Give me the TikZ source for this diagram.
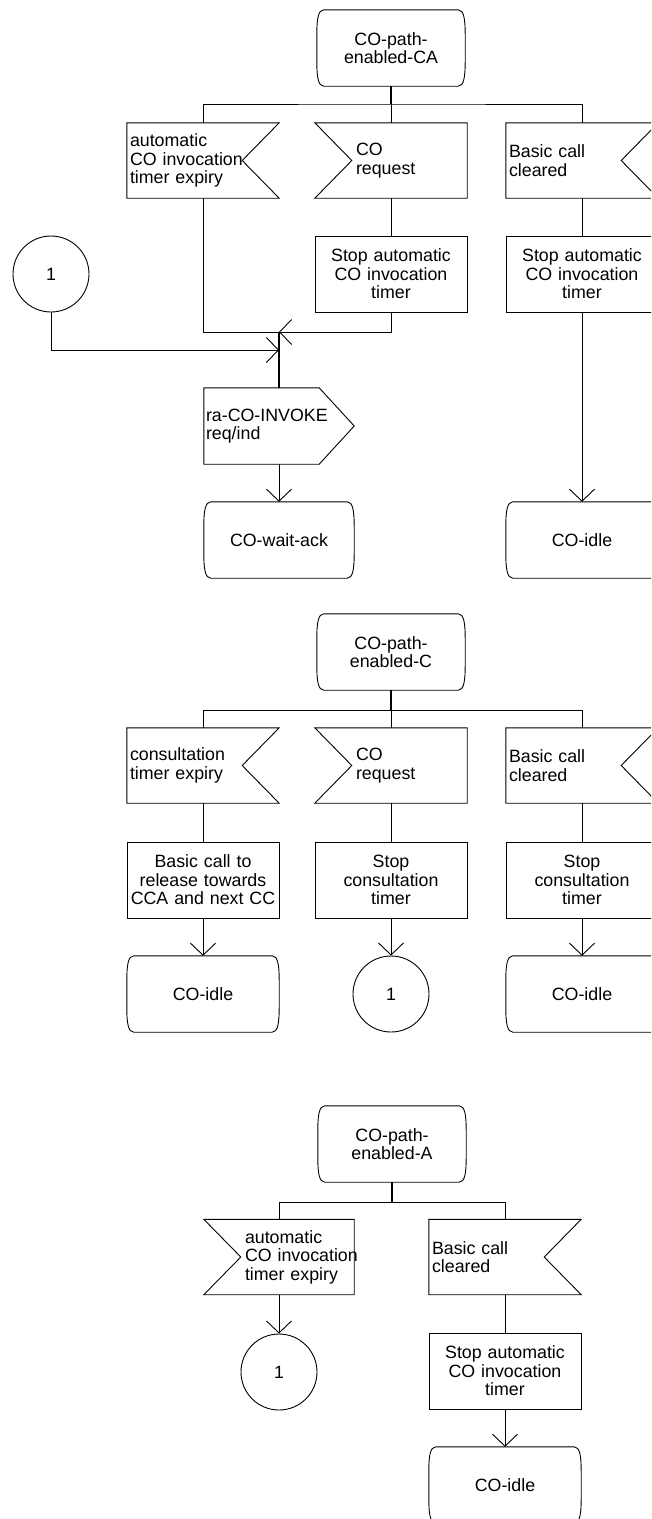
\documentclass[tikz,border=0pt]{standalone}
\usepackage{fontspec}
\setmainfont{Liberation Sans}
\usetikzlibrary{arrows.meta}
\hyphenpenalty=10000
\begin{document}
\begin{tikzpicture}[x=1pt,y=-1pt,
  every node/.style={font=\fontsize{17.8pt}{18.6pt}\selectfont, inner sep=0pt},
  ln/.style={line width=0.9pt, line join=miter},
  heavy/.style={line width=1.7pt},
  arr/.style={ln, -{Straight Barb[length=12pt,width=25pt]}},
  procbox/.style={ln, draw, text width=152pt, minimum height=76pt, align=center},
  conn/.style={ln, draw, circle, minimum size=76pt},
  statebox/.style={text width=#1, minimum height=76pt, align=center,
    append after command={\pgfextra{\pgfinterruptpath
      \draw[ln] ([xshift=7pt]\tikzlastnode.north west) -- ([xshift=-7pt]\tikzlastnode.north east)
        .. controls ([xshift=-1.5pt]\tikzlastnode.north east) and ([yshift=-9pt]\tikzlastnode.north east) .. ([yshift=-24pt]\tikzlastnode.north east)
        -- ([yshift=24pt]\tikzlastnode.south east)
        .. controls ([yshift=9pt]\tikzlastnode.south east) and ([xshift=-1.5pt]\tikzlastnode.south east) .. ([xshift=-7pt]\tikzlastnode.south east)
        -- ([xshift=7pt]\tikzlastnode.south west)
        .. controls ([xshift=1.5pt]\tikzlastnode.south west) and ([yshift=9pt]\tikzlastnode.south west) .. ([yshift=24pt]\tikzlastnode.south west)
        -- ([yshift=-24pt]\tikzlastnode.north west)
        .. controls ([yshift=-9pt]\tikzlastnode.north west) and ([xshift=1.5pt]\tikzlastnode.north west) .. ([xshift=7pt]\tikzlastnode.north west) -- cycle;
      \endpgfinterruptpath}}},
  statebox/.default=150pt,
  notchright/.style={text width=#1, minimum height=75pt, align=left,
    execute at begin node={\leftskip=3pt},
    append after command={\pgfextra{\pgfinterruptpath
      \draw[ln] (\tikzlastnode.north west) -- (\tikzlastnode.north east) -- ([xshift=-37pt]\tikzlastnode.east)
        -- (\tikzlastnode.south east) -- (\tikzlastnode.south west) -- cycle;
      \endpgfinterruptpath}}},
  notchright/.default=152pt,
  notchleft/.style={text width=#1, minimum height=75pt, align=left,
    execute at begin node={\leftskip=41pt},
    append after command={\pgfextra{\pgfinterruptpath
      \draw[ln] (\tikzlastnode.north west) -- (\tikzlastnode.north east) -- (\tikzlastnode.south east)
        -- (\tikzlastnode.south west) -- ([xshift=37pt]\tikzlastnode.west) -- cycle;
      \endpgfinterruptpath}}},
  notchleft/.default=152pt,
  sendbox/.style={text width=150pt, minimum height=76pt, align=left,
    execute at begin node={\leftskip=2pt},
    append after command={\pgfextra{\pgfinterruptpath
      \draw[ln] (\tikzlastnode.north west) -- ([xshift=-35pt]\tikzlastnode.north east) -- (\tikzlastnode.east)
        -- ([xshift=-35pt]\tikzlastnode.south east) -- (\tikzlastnode.south west) -- cycle;
      \endpgfinterruptpath}}}
]
\path[use as bounding box, clip] (0,0) rectangle (651,1519);

% ---------------- Section 1 ----------------
\node[statebox=148pt] (st1) at (391,48) {CO-path-\\enabled-CA};
\coordinate (b1) at (391,104);
\node[notchright] (s1a) at (203,160.5) {automatic\\\mbox{CO invocation}\\timer expiry};
\node[notchleft]  (s1b) at (391,160.5) {CO\\request};
\node[notchright] (s1c) at (582,160.5) {Basic call\\cleared};
\node[procbox] (p1b) at (391,274) {Stop automatic\\CO invocation\\timer};
\node[procbox] (p1c) at (582,274) {Stop automatic\\CO invocation\\timer};
\node[conn] (c1) at (51,274) {1};
\coordinate (m1) at (279,332);
\coordinate (m1b) at (279,350);
\node[sendbox] (out1) at (279,426) {ra-CO-INVOKE\\req/ind};
\node[statebox] (ws1) at (279,540) {CO-wait-ack};
\node[statebox=152pt] (idle1) at (582,540) {CO-idle};

\draw[ln, heavy] (st1.south) -- (b1);
\draw[ln] (s1a.north) |- (b1) -| (s1c.north);
\draw[ln] (b1) -- (s1b.north);
\draw[ln] (s1b.south) -- (p1b.north);
\draw[ln] (s1c.south) -- (p1c.north);
\draw[ln] (s1a.south) |- (m1);
\draw[arr] (p1b.south) |- (m1);
\draw[arr] (c1.south) |- (m1b);
\draw[ln, heavy] (m1) -- (out1.north);
\draw[arr] (out1.south) -- (ws1.north);
\draw[arr] (p1c.south) -- (idle1.north);

% ---------------- Section 2 ----------------
\node[statebox=148pt] (st2) at (391,652) {CO-path-\\enabled-C};
\coordinate (b2) at (391,710);
\node[notchright] (s2a) at (203,765.5) {consultation\\timer expiry};
\node[notchleft]  (s2b) at (391,765.5) {CO\\request};
\node[notchright] (s2c) at (582,765.5) {Basic call\\cleared};
\node[procbox] (p2a) at (203,880) {Basic call to\\release towards\\CCA and next CC};
\node[procbox] (p2b) at (391,880) {Stop\\consultation\\timer};
\node[procbox] (p2c) at (582,880) {Stop\\consultation\\timer};
\node[statebox=152pt] (idle2a) at (203,994) {CO-idle};
\node[conn] (c2) at (391,994) {1};
\node[statebox=152pt] (idle2c) at (582,994) {CO-idle};

\draw[ln, heavy] (st2.south) -- (b2);
\draw[ln] (s2a.north) |- (b2) -| (s2c.north);
\draw[ln] (b2) -- (s2b.north);
\draw[ln] (s2a.south) -- (p2a.north);
\draw[ln] (s2b.south) -- (p2b.north);
\draw[ln] (s2c.south) -- (p2c.north);
\draw[arr] (p2a.south) -- (idle2a.north);
\draw[arr] (p2b.south) -- (c2.north);
\draw[arr] (p2c.south) -- (idle2c.north);

% ---------------- Section 3 ----------------
\node[statebox=148pt] (st3) at (392,1144) {CO-path-\\enabled-A};
\coordinate (b3) at (392,1202);
\node[notchleft=150pt] (s3a) at (279,1257) {automatic\\\mbox{CO invocation}\\timer expiry};
\node[notchright] (s3b) at (505,1257) {Basic call\\cleared};
\node[conn] (c3) at (279,1372) {1};
\node[procbox] (p3b) at (505,1371) {Stop automatic\\CO invocation\\timer};
\node[statebox=152pt] (idle3) at (505,1485) {CO-idle};

\draw[ln, heavy] (st3.south) -- (b3);
\draw[ln] (s3a.north) |- (b3) -| (s3b.north);
\draw[arr] (s3a.south) -- (c3.north);
\draw[ln] (s3b.south) -- (p3b.north);
\draw[arr] (p3b.south) -- (idle3.north);
\end{tikzpicture}
\end{document}
